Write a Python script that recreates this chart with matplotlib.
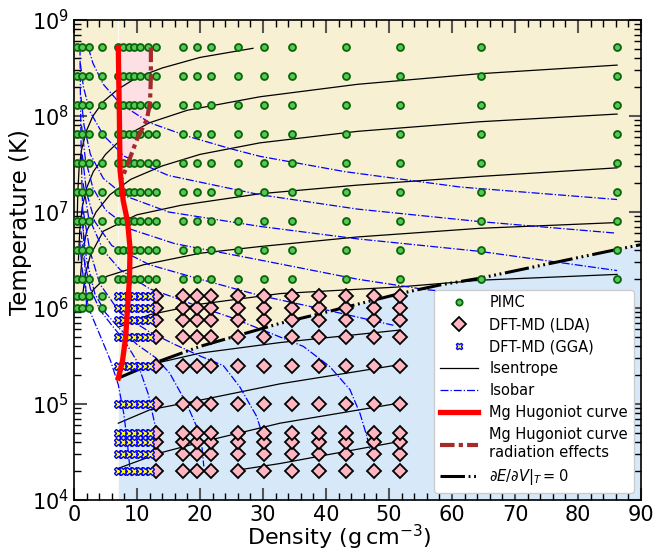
import numpy as np
import matplotlib
matplotlib.use('Agg')
import matplotlib.pyplot as plt
from matplotlib.lines import Line2D

# ---- data ----
# PIMC grid
pimc_rho = [0.43, 1.22, 2.3, 4.45, 6.95, 7.82, 8.69, 9.55, 10.42, 11.8, 13.03,
            17.37, 19.5, 21.7, 26.06, 30.2, 34.6, 43.2, 51.8, 64.6, 86.2]
pimc_T = [2.02e6, 4.04e6, 8.08e6, 1.62e7, 3.23e7, 6.47e7, 1.29e8, 2.59e8, 5.17e8]
pimc_low_rho = [0.43, 1.22, 2.3, 4.45]
pimc_low_T = [1.01e6, 1.33e6]

# DFT-MD grids
dft_T = [2.0e4, 3.0e4, 4.0e4, 5.0e4, 1.0e5, 2.5e5, 5.0e5, 7.5e5, 1.0e6, 1.33e6]
lda_rho = [13.03, 17.37, 19.5, 21.7, 26.06, 30.2, 34.6, 38.9, 43.2, 47.6, 51.8]
gga_rho = [6.95, 7.82, 8.69, 9.55, 10.42, 11.29, 12.0]

# Hugoniot (density, log10 T)
hug_rho = [7.03, 7.1, 7.2, 7.3, 7.8, 8.5, 8.9, 8.8, 8.5, 8.2, 7.7, 7.03]
hug_logT = [8.713, 8.4, 8.0, 7.44, 7.12, 6.9, 6.62, 6.3, 6.0, 5.7, 5.45, 5.27]
rad_rho = [12.2, 12.2, 12.06, 11.54, 9.95, 8.36, 7.6]
rad_logT = [8.713, 8.41, 8.13, 7.96, 7.75, 7.47, 7.35]

# dE/dV|T = 0 line
dedv_rho = [7.03, 12.06, 20.0, 32.7, 39.0, 51.7, 58.1, 64.4, 86.2, 90.0]
dedv_logT = [5.27, 5.41, 5.6, 5.84, 5.94, 6.15, 6.24, 6.31, 6.61, 6.66]

# isentropes (density, log10 T)
isentropes = [
    ([0.5, 0.6, 0.8, 1.2, 2.0, 3.0, 4.65, 7.0, 9.95, 14.0, 20.0, 28.4],
     [6.9, 7.2, 7.45, 7.65, 7.85, 8.0, 8.15, 8.28, 8.4, 8.5, 8.61, 8.705]),
    ([0.7, 0.9, 1.3, 2.0, 3.06, 5.0, 7.83, 12.0, 18.0, 29.5, 45.0, 64.3, 86.2],
     [6.5, 6.8, 7.05, 7.25, 7.42, 7.6, 7.78, 7.93, 8.06, 8.2, 8.33, 8.44, 8.53]),
    ([1.0, 1.3, 2.0, 3.5, 5.7, 9.0, 14.0, 20.0, 29.5, 45.0, 64.4, 86.2],
     [6.3, 6.55, 6.8, 7.0, 7.18, 7.34, 7.48, 7.6, 7.72, 7.84, 7.94, 8.02]),
    ([1.3, 1.8, 2.6, 4.65, 9.95, 17.0, 29.5, 45.0, 64.4, 86.2],
     [6.1, 6.35, 6.55, 6.8, 6.97, 7.07, 7.19, 7.28, 7.37, 7.46]),
    ([1.75, 2.3, 3.06, 5.2, 11.0, 20.0, 29.5, 45.0, 64.4, 86.2],
     [6.0, 6.1, 6.19, 6.33, 6.45, 6.57, 6.64, 6.74, 6.83, 6.89]),
    ([7.03, 12.0, 20.0, 32.7, 51.8, 64.6, 86.2],
     [5.8, 5.93, 6.04, 6.15, 6.22, 6.29, 6.35]),
    ([7.03, 12.06, 20.0, 32.7, 51.7],
     [5.27, 5.41, 5.53, 5.64, 5.77]),
    ([7.03, 12.06, 20.0, 32.7, 51.7],
     [4.8, 4.94, 5.04, 5.21, 5.41]),
    ([7.03, 13.65, 20.0, 32.7, 51.7],
     [4.33, 4.49, 4.6, 4.8, 5.01]),
    ([25.8, 32.7, 51.7],
     [4.31, 4.38, 4.61]),
]

# isobars (density, log10 T)
isobars = [
    ([0.95, 1.0, 1.1, 1.25, 1.48, 1.75, 2.0],
     [8.713, 8.3, 7.8, 7.3, 6.8, 6.4, 6.0]),
    ([2.27, 3.0, 4.65, 7.3, 12.0, 18.0, 24.8, 29.5, 43.0, 61.3, 86.2],
     [8.713, 8.55, 8.33, 8.13, 7.93, 7.79, 7.66, 7.58, 7.42, 7.26, 7.13]),
    ([1.0, 1.5, 2.5, 4.65, 8.0, 15.0, 29.5, 45.0, 64.4, 86.0],
     [8.55, 8.3, 8.05, 7.8, 7.58, 7.38, 7.18, 7.03, 6.9, 6.78]),
    ([1.1, 1.6, 2.6, 4.65, 8.0, 15.0, 29.5, 45.0, 64.4, 86.2],
     [8.2, 7.9, 7.6, 7.35, 7.17, 7.0, 6.85, 6.72, 6.59, 6.39]),
    ([1.2, 1.8, 3.0, 5.0, 9.0, 16.0, 29.5, 45.0, 56.0, 63.0],
     [7.9, 7.55, 7.25, 7.02, 6.82, 6.67, 6.5, 6.3, 6.19, 6.15]),
    ([1.3, 2.0, 3.3, 6.0, 12.0, 20.0, 29.5, 40.0, 50.7],
     [7.6, 7.2, 6.9, 6.65, 6.45, 6.3, 6.13, 5.98, 5.82]),
    ([1.45, 2.3, 4.65, 7.3, 12.0, 16.3, 20.0, 25.0, 31.1, 36.4, 40.6, 43.8, 45.4, 46.5, 47.0],
     [7.3, 6.95, 6.6, 6.4, 6.2, 6.1, 6.01, 5.9, 5.74, 5.6, 5.39, 5.15, 4.9, 4.66, 4.52]),
    ([1.5, 2.5, 4.1, 7.3, 12.0, 16.0, 20.0, 23.7, 26.3, 29.0, 30.0],
     [7.0, 6.6, 6.25, 5.95, 5.75, 5.62, 5.5, 5.4, 5.18, 4.87, 4.66]),
    ([1.3, 2.0, 3.3, 5.0, 7.3, 10.0, 13.0, 15.2, 17.9, 19.5, 20.3, 20.6],
     [6.9, 6.5, 6.15, 5.95, 5.78, 5.62, 5.48, 5.32, 5.0, 4.76, 4.56, 4.35]),
    ([1.1, 1.6, 2.6, 4.1, 6.0, 8.0, 9.95, 11.8, 12.86, 13.5],
     [6.8, 6.5, 6.2, 5.98, 5.82, 5.66, 5.45, 5.1, 4.78, 4.45]),
    ([0.9, 1.3, 2.3, 4.1, 5.8, 7.03, 7.9, 8.4, 8.9],
     [6.7, 6.4, 6.0, 5.72, 5.45, 5.2, 4.9, 4.64, 4.31]),
]

# ---- figure ----
fig = plt.figure(figsize=(6.68, 5.52), dpi=100)
ax = fig.add_axes([0.1108, 0.0942, 0.8488, 0.8696])
ax.set_yscale('log')
ax.set_xlim(0, 90)
ax.set_ylim(1e4, 1e9)

yellow = '#f7f0d3'
blue = '#d7e9f8'
pink = '#fde0e3'

# background regions
ax.fill_between([0, 6.95], [0.97e6, 0.97e6], [1e9, 1e9], color=yellow, lw=0, zorder=0)
dx = np.array(dedv_rho)
dT = 10 ** np.array(dedv_logT)
ax.fill_between(dx, dT, 1e9, color=yellow, lw=0, zorder=0)
ax.fill_between(dx, 1e4, dT, color=blue, lw=0, zorder=0)
ax.fill_between([6.95, 7.03], [1e4, 1e4], [1e9, 1e9], color=yellow, lw=0, zorder=0)
ax.fill_between([6.95, 7.03], [1e4, 1e4], [10**5.27, 10**5.27], color=blue, lw=0, zorder=0)

# pink region between Hugoniots
px = list(hug_rho[:4]) + [7.6] + list(rad_rho[::-1])
py = list(hug_logT[:4]) + [7.35] + list(rad_logT[::-1])
ax.fill(px, 10 ** np.array(py), color=pink, lw=0, zorder=0.5)

for r, t in isentropes:
    ax.plot(r, 10 ** np.array(t), color='black', lw=0.9, zorder=2)
for r, t in isobars:
    ax.plot(r, 10 ** np.array(t), color='blue', lw=0.9, ls='-.', zorder=2)

dedv_ls = (0, (8, 1.2, 0.6, 1.2, 0.6, 1.2, 0.6, 1.2))
ax.plot(dedv_rho, dT, color='black', lw=2.2, ls=dedv_ls, zorder=3)

# markers
gx, gy = np.meshgrid(pimc_rho, pimc_T)
lx, ly = np.meshgrid(pimc_low_rho, pimc_low_T)
pimc_style = dict(marker='o', ms=5, mfc='#55c855', mec='#0a640a', mew=1.3, ls='none')
lda_style = dict(marker='D', ms=7.5, mfc='#ffb6c1', mec='black', mew=1.3, ls='none')
gga_style = dict(marker='X', ms=6, mfc='yellow', mec='blue', mew=1.0, ls='none')
ax.plot(np.r_[gx.ravel(), lx.ravel()], np.r_[gy.ravel(), ly.ravel()], zorder=4, **pimc_style)
dx2, dy2 = np.meshgrid(lda_rho, dft_T)
ax.plot(dx2.ravel(), dy2.ravel(), zorder=4, **lda_style)
ex, ey = np.meshgrid(gga_rho, dft_T)
ax.plot(ex.ravel(), ey.ravel(), zorder=4, **gga_style)

ax.plot(hug_rho, 10 ** np.array(hug_logT), color='red', lw=3.8, zorder=5)
rad_ls = (0, (3.5, 1, 1, 1))
ax.plot(rad_rho, 10 ** np.array(rad_logT), color='#a52a2a', lw=3, ls=rad_ls, zorder=5)

# axes styling
ax.set_xlabel('Density (g$\\,$cm$^{-3}$)', fontsize=16)
ax.set_ylabel('Temperature (K)', fontsize=16.5)
ax.xaxis.set_label_coords(0.467, -0.048)
ax.yaxis.set_label_coords(-0.0745, 0.579)
ax.set_xticks(range(0, 91, 10))
ax.set_xticks(range(0, 91, 2), minor=True)
ax.tick_params(which='both', direction='in', top=True, right=True, labelsize=15, pad=3.5)
ax.tick_params(which='major', length=9, width=1.5, color='#555555')
ax.tick_params(which='minor', length=5, width=1.0, color='black')
for s in ax.spines.values():
    s.set_linewidth(1.2)

handles = [
    Line2D([], [], **pimc_style),
    Line2D([], [], **lda_style),
    Line2D([], [], **gga_style),
    Line2D([], [], color='black', lw=0.9),
    Line2D([], [], color='blue', lw=0.9, ls='-.'),
    Line2D([], [], color='red', lw=3.8),
    Line2D([], [], color='#a52a2a', lw=3, ls=rad_ls),
    Line2D([], [], color='black', lw=2.2, ls=dedv_ls),
]
handles[0].set_markersize(4.5)
handles[1].set_markersize(7)
handles[2].set_markersize(5)
labels = ['PIMC', 'DFT-MD (LDA)', 'DFT-MD (GGA)', 'Isentrope', 'Isobar',
          'Mg Hugoniot curve', 'Mg Hugoniot curve\nradiation effects',
          r'$\partial E/\partial V|_T=0$']
ax.legend(handles, labels, loc='lower right', fontsize=10.5, handlelength=2.6,
          framealpha=1, labelspacing=0.48)

fig.savefig('out.png', dpi=100)
